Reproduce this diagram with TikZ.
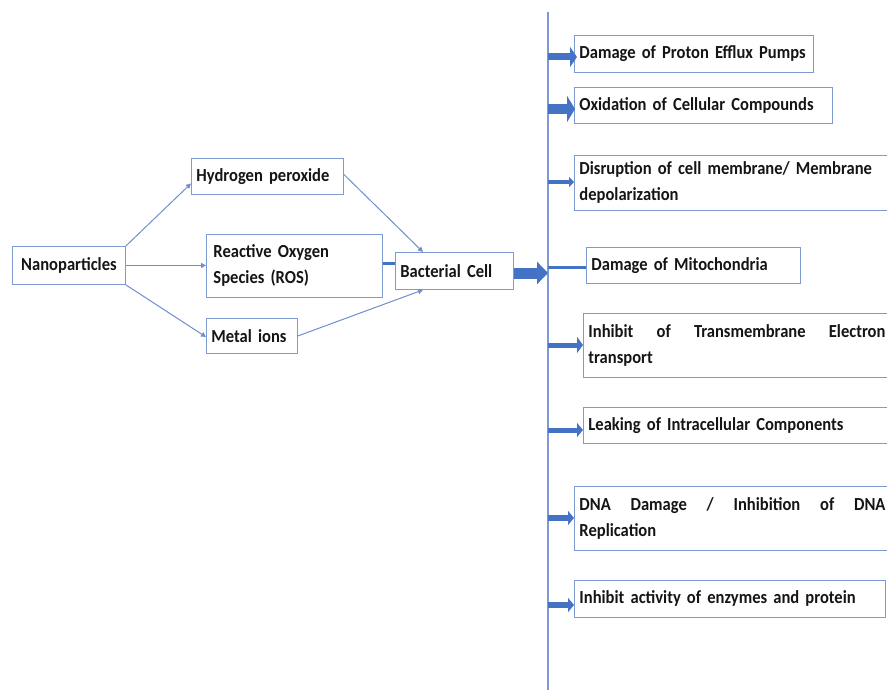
\documentclass[tikz,border=0pt]{standalone}
\usepackage{fontspec}
\setmainfont{Carlito}[FakeStretch=0.9]
\usetikzlibrary{arrows.meta}
\definecolor{boxc}{HTML}{7F9AD0}
\definecolor{arrc}{HTML}{4472C4}
\definecolor{linec}{HTML}{6F8ED0}
\definecolor{txt}{HTML}{151515}
\newcommand{\boxfont}{\fontsize{18.4}{26}\selectfont\bfseries\fontdimen2\font=3.9pt\fontdimen3\font=1.5pt\fontdimen4\font=0.8pt}
\begin{document}
\begin{tikzpicture}[x=1pt,y=-1pt,
  box/.style={draw=boxc, line width=0.9pt, font=\boxfont, text=txt,
    inner xsep=5pt, inner ysep=0pt, align=left, anchor=north west},
  thin/.style={draw=linec, line width=1pt, -{Triangle[length=5pt,width=5pt]}},
  fat/.style={draw=arrc, line width=#1},
  vline/.style={draw=boxc, line width=1.4pt}]
\useasboundingbox (0,0) rectangle (887,690);
\clip (0,0) rectangle (887,690);

% left part
\node[box, align=center, text width=103pt, minimum height=38pt] (np) at (12,246) {Nanoparticles};
\node[box, text width=142pt, minimum height=36pt] (hp) at (191,158) {\mbox{Hydrogen peroxide}};
\node[box, inner xsep=7pt, text width=162pt, minimum height=63pt] (ros) at (206,234) {Reactive Oxygen\\Species (ROS)};
\node[box, text width=81pt, minimum height=35pt] (mi) at (206,318) {Metal ions};
\node[box, text width=108pt, minimum height=37pt] (bc) at (395,252) {\mbox{Bacterial Cell}};

\draw[thin] (np.north east) -- ([yshift=-7pt]hp.west);
\draw[thin] (np.east) -- (np.east -| ros.west);
\draw[thin] (np.south east) -- ([yshift=-1pt]mi.west);
\draw[thin] ([yshift=2pt]hp.east) -- ([xshift=28pt]bc.north west);
\draw[thin] (mi.east) -- ([xshift=28pt]bc.south west);
\draw[fat=3pt] ([yshift=2pt]ros.east) -- ([yshift=2pt]ros.east -| bc.west);

% vertical line
\coordinate (vtop) at (548,12);
\coordinate (vbot) at (548,692);
\draw[vline] (vtop) -- (vbot);

% big arrow
\coordinate (vb) at (548,273);
\draw[fat=11pt, -{Triangle[length=11pt,width=22pt]}] (bc.east |- vb) -- (vb);

% right boxes
\node[box, text width=229pt, minimum height=37pt] (p1) at (574,35) {\mbox{Damage of Proton Efflux Pumps}};
\node[box, text width=248pt, minimum height=36pt] (p2) at (574,87) {\mbox{Oxidation of Cellular Compounds}};
\node[box, text width=310pt, minimum height=55pt] (p3) at (574,155) {Disruption of cell membrane/ Membrane\\depolarization};
\node[box, text width=204pt, minimum height=36pt] (p4) at (586,247) {\mbox{Damage of Mitochondria}};
\node[box, text width=297pt, minimum height=64pt] (p5) at (583,313) {Inhibit\hfill of\hfill Transmembrane\hfill Electron\\transport};
\node[box, text width=297pt, minimum height=36pt] (p6) at (583,407) {\mbox{Leaking of Intracellular Components}};
\node[box, text width=306pt, minimum height=64pt] (p7) at (574,486) {DNA\hfill Damage\hfill /\hfill Inhibition\hfill of\hfill DNA\\Replication};
\node[box, text width=301pt, minimum height=37pt] (p8) at (574,580) {\mbox{Inhibit activity of enzymes and protein}};

% connectors from the vertical line
\coordinate (v1) at (548,57);
\coordinate (v2) at (548,109);
\coordinate (v3) at (548,182);
\coordinate (v4) at (548,267);
\coordinate (v5) at (548,345);
\coordinate (v6) at (548,430);
\coordinate (v7) at (548,518);
\coordinate (v8) at (548,605);
\draw[fat=7pt, -{Triangle[length=7pt,width=20pt]}] (v1) -- ([xshift=3pt]p1.west |- v1);
\draw[fat=10pt, -{Triangle[length=8pt,width=26pt]}] (v2) -- ([xshift=1pt]p2.west |- v2);
\draw[fat=4pt, -{Triangle[length=5pt,width=10pt]}] (v3) -- (p3.west |- v3);
\draw[fat=3pt] (v4) -- (p4.west |- v4);
\draw[fat=5pt, -{Triangle[length=6pt,width=16pt]}] (v5) -- (p5.west |- v5);
\draw[fat=5pt, -{Triangle[length=6pt,width=14pt]}] (v6) -- (p6.west |- v6);
\draw[fat=6pt, -{Triangle[length=6pt,width=14pt]}] (v7) -- (p7.west |- v7);
\draw[fat=6pt, -{Triangle[length=6pt,width=14pt]}] (v8) -- (p8.west |- v8);
\end{tikzpicture}
\end{document}
